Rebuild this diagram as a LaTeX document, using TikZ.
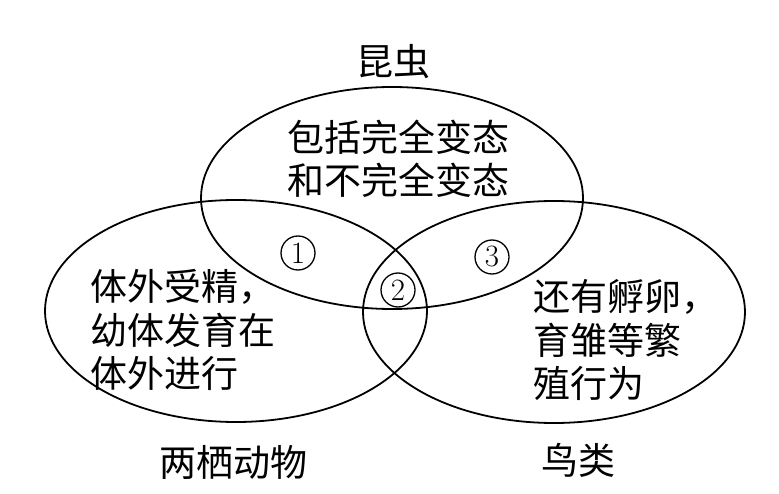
\documentclass[tikz,border=0pt]{standalone}
\usepackage{fontspec}
\newfontfamily\cjk{Noto Sans CJK SC}
\usetikzlibrary{shapes.geometric}
\tikzset{
  setoval/.style={draw, line width=1.8pt, ellipse, minimum width=382pt, minimum height=222pt, inner sep=0pt},
  cjktext/.style={font=\cjk\fontsize{37}{43.5}\selectfont, inner sep=0pt, align=left},
  setlabel/.style={font=\cjk\fontsize{37}{43.5}\selectfont, inner sep=0pt},
  regnum/.style={draw, circle, line width=1.3pt, minimum size=34pt, inner sep=0pt, font=\fontsize{31}{31}\selectfont}
}
\begin{document}
\begin{tikzpicture}[x=1pt,y=-1pt]
\path[use as bounding box] (0,0) rectangle (779,494);
\node[setoval] (insect) at (392,198) {};
\node[setoval] (amph) at (236,311) {};
\node[setoval] (bird) at (554,312) {};
\node[setlabel] (linsect) at (393,62) {昆虫};
\node[setlabel] (lamph) at (233,462) {两栖动物};
\node[setlabel] (lbird) at (578,460) {鸟类};
\node[cjktext, align=center] (tinsect) at (398,159) {包括完全变态\\和不完全变态};
\node[cjktext, anchor=west] (tamph) at (90,330) {体外受精，\\幼体发育在\\体外进行};
\node[cjktext, anchor=west] (tbird) at (533,340) {还有孵卵，\\育雏等繁\\殖行为};
\node[regnum] (r1) at (298,253) {1};
\node[regnum] (r2) at (398,290) {2};
\node[regnum] (r3) at (492,257) {3};
\end{tikzpicture}
\end{document}
